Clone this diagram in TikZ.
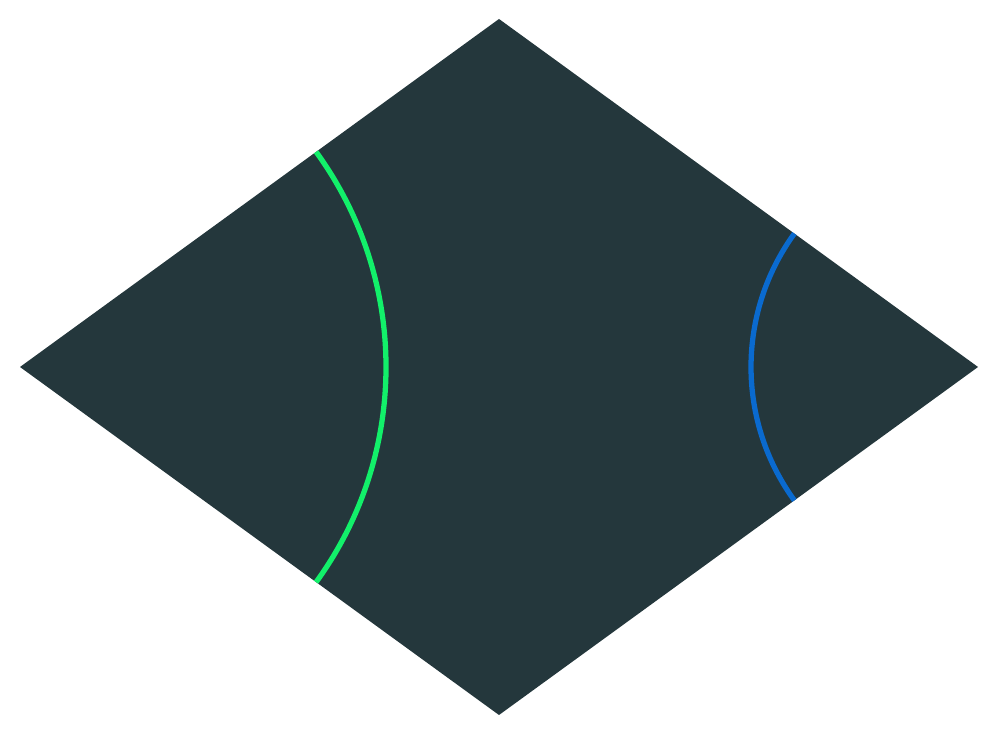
\documentclass[tikz,border=0pt]{standalone}
\definecolor{tilefill}{HTML}{24373C}
\definecolor{arcgreen}{HTML}{12F06A}
\definecolor{arcblue}{HTML}{0A6ACF}
\begin{document}
\begin{tikzpicture}[
  tile/.style={fill=tilefill, draw=none},
  arcline/.style={line width=1.5pt}
]
\useasboundingbox (0,0) rectangle (10,7.37);
\coordinate (T) at (4.99,7.18);
\coordinate (L) at (0.20,3.70);
\coordinate (B) at (4.99,0.22);
\coordinate (R) at (9.78,3.70);
\fill[tile] (T) -- (L) -- (B) -- (R) -- cycle;
\draw[arcline, arcgreen] (L) ++(36:3.66) arc[start angle=36, end angle=-36, radius=3.66];
\draw[arcline, arcblue] (R) ++(144:2.27) arc[start angle=144, end angle=216, radius=2.27];
\end{tikzpicture}
\end{document}
